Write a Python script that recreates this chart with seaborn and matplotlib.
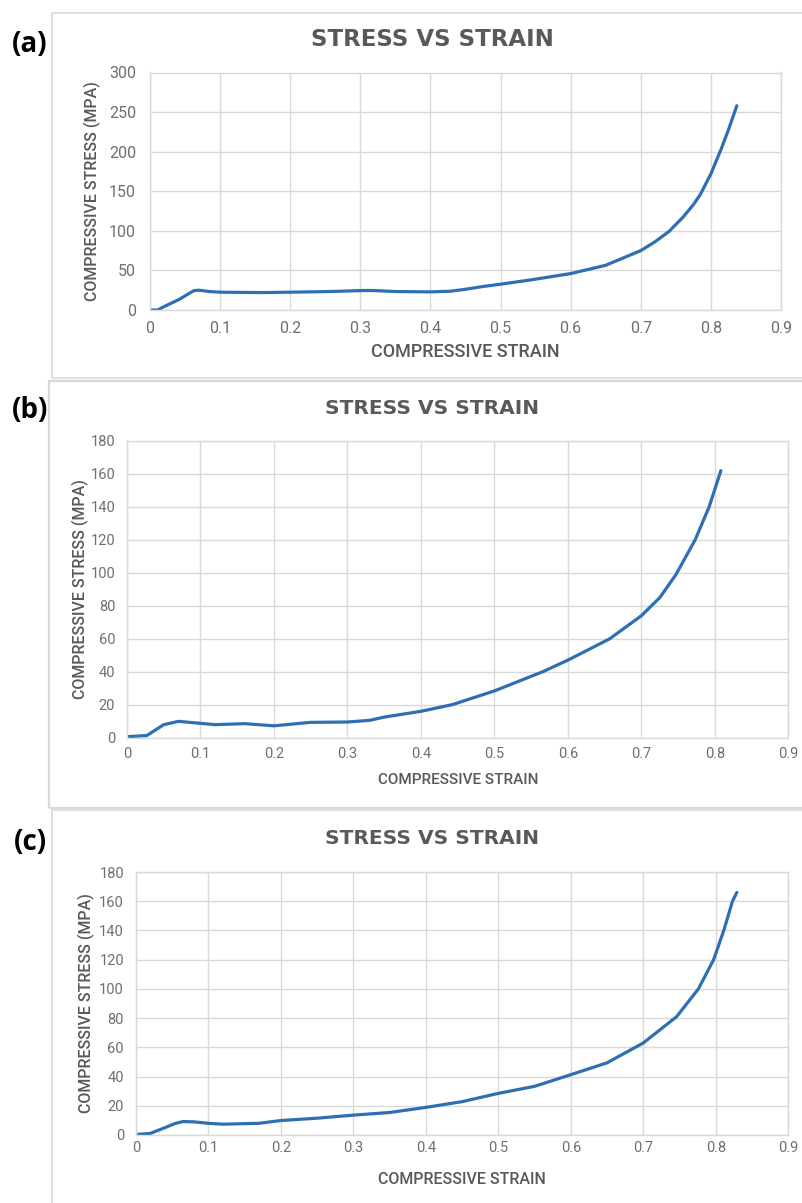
import matplotlib
matplotlib.use("Agg")
import matplotlib.pyplot as plt
from matplotlib.patches import Rectangle
import seaborn as sns

# Data
strain_a = [0, 0.011, 0.018, 0.028, 0.042, 0.054, 0.063, 0.07, 0.085, 0.1, 0.161,
            0.2, 0.256, 0.304, 0.318, 0.351, 0.4, 0.428, 0.447, 0.475, 0.5, 0.543,
            0.6, 0.65, 0.7, 0.72, 0.74, 0.76, 0.775, 0.785, 0.8, 0.815,
            0.826, 0.837]
stress_a = [0, 0, 3.4, 7.6, 13.6, 20, 24.6, 25, 23.3, 22.5, 22,
            22.5, 23.3, 24.6, 24.6, 23.3, 22.9, 23.7, 25.8, 29.7, 32.6, 38,
            46, 56.5, 75, 86, 99, 117, 133, 146, 172, 204,
            230, 258]

strain_b = [0, 0.027, 0.05, 0.07, 0.1, 0.12, 0.16, 0.2, 0.25, 0.3, 0.33, 0.35,
            0.4, 0.443, 0.5, 0.566, 0.6, 0.657, 0.7, 0.725, 0.747, 0.773, 0.792,
            0.808]
stress_b = [0.5, 1.2, 7.8, 9.8, 8.6, 7.8, 8.4, 7.1, 9.2, 9.4, 10.4, 12.4,
            15.9, 20, 28.3, 40, 47, 60, 74, 85, 99, 120, 140,
            162]

strain_c = [0, 0.02, 0.04, 0.055, 0.065, 0.08, 0.1, 0.12, 0.17, 0.2, 0.25, 0.3,
            0.35, 0.4, 0.45, 0.5, 0.55, 0.592, 0.65, 0.7, 0.746, 0.776, 0.797,
            0.811, 0.823, 0.829]
stress_c = [0.3, 1.1, 5, 8, 9.2, 9, 8, 7.4, 8, 9.9, 11.5, 13.6,
            15.4, 18.9, 22.8, 28.5, 33.3, 40, 49.4, 63, 81, 100, 120,
            140, 160, 166]

x_ticks = [0, 0.1, 0.2, 0.3, 0.4, 0.5, 0.6, 0.7, 0.8, 0.9]
x_tick_labels = ["0", "0.1", "0.2", "0.3", "0.4", "0.5", "0.6", "0.7", "0.8", "0.9"]
y_ticks_a = [0, 50, 100, 150, 200, 250, 300]
y_ticks_bc = [0, 20, 40, 60, 80, 100, 120, 140, 160, 180]
panel_tags = ["(a)", "(b)", "(c)"]

TITLE = "STRESS VS STRAIN"
XLABEL = "COMPRESSIVE STRAIN"
YLABEL = "COMPRESSIVE STRESS (MPA)"

sns.set_theme(style="whitegrid")
plt.rcParams["font.family"] = ["Roboto", "DejaVu Sans"]

W, H = 803, 1203
LINE = "#2e6fb3"
GRID = "#d9d9d9"
TEXT = "#595959"
TICK = "#6f6f6f"

fig = plt.figure(figsize=(W / 100, H / 100), dpi=100)
fig.patch.set_facecolor("white")


def px_axes(left, top, right, bottom):
    return fig.add_axes([left / W, 1 - bottom / H, (right - left) / W, (bottom - top) / H])


def frame(left, top, right, bottom, lw=1.2):
    fig.patches.append(Rectangle((left / W, 1 - bottom / H), (right - left) / W,
                                 (bottom - top) / H, transform=fig.transFigure,
                                 fill=False, edgecolor=GRID, linewidth=lw))


# panel frames
frame(52, 13, 812, 378)
frame(49, 381, 812, 808, lw=1.6)
frame(52, 810, 812, 1215)

panels = [
    dict(box=(150, 72.5, 781, 310), x=strain_a, y=stress_a, yticks=y_ticks_a,
         ylim=300, ypad=10, xpad=8, ylab_x=-0.092, xlab_y=-0.177,
         title_y=40, title_fs=16.5, tag_y=44, xlab_fs=13, tick_fs=11.5),
    dict(box=(127, 441, 788.5, 737.5), x=strain_b, y=stress_b, yticks=y_ticks_bc,
         ylim=180, ypad=8.5, xpad=7, ylab_x=-0.071, xlab_y=-0.143,
         title_y=409, title_fs=14.5, tag_y=411, xlab_fs=11, tick_fs=10.5),
    dict(box=(135.8, 872, 788.3, 1135), x=strain_c, y=stress_c, yticks=y_ticks_bc,
         ylim=180, ypad=8.5, xpad=4, ylab_x=-0.076, xlab_y=-0.171,
         title_y=838, title_fs=14.5, tag_y=843, xlab_fs=11.5, tick_fs=10.5),
]

for tag, p in zip(panel_tags, panels):
    ax = px_axes(*p["box"])
    sns.lineplot(x=p["x"], y=p["y"], ax=ax, color=LINE, linewidth=2.3)
    ax.set_xlim(0, 0.9)
    ax.set_ylim(0, p["ylim"])
    ax.set_xticks(x_ticks)
    ax.set_xticklabels(x_tick_labels)
    ax.set_yticks(p["yticks"])
    ax.set_yticklabels([str(v) for v in p["yticks"]])
    ax.grid(True, color=GRID, linewidth=1.0)
    for s in ax.spines.values():
        s.set_color(GRID)
        s.set_linewidth(1.0)
    ax.tick_params(axis="y", length=0, pad=p["ypad"], labelsize=p["tick_fs"], labelcolor=TICK)
    ax.tick_params(axis="x", length=0, pad=p["xpad"], labelsize=p["tick_fs"], labelcolor=TICK)

    ax.set_xlabel(XLABEL, fontsize=p["xlab_fs"], color=TEXT, fontweight="medium")
    ax.xaxis.set_label_coords(0.5, p["xlab_y"])
    ax.xaxis.label.set_verticalalignment("center")
    ax.set_ylabel(YLABEL, fontsize=11.5, color=TEXT, fontweight="medium")
    ax.yaxis.set_label_coords(p["ylab_x"], 0.5)
    ax.yaxis.label.set_verticalalignment("center")

    fig.text(432 / W, 1 - p["title_y"] / H, TITLE, ha="center", va="center",
             fontsize=p["title_fs"], fontweight="bold", color=TEXT, family="DejaVu Sans")
    fig.text(30 / W, 1 - p["tag_y"] / H, tag, ha="center", va="center",
             fontsize=20, fontweight="bold", color="black", family="Open Sans")

fig.savefig("out.png", dpi=100)
plt.close(fig)
